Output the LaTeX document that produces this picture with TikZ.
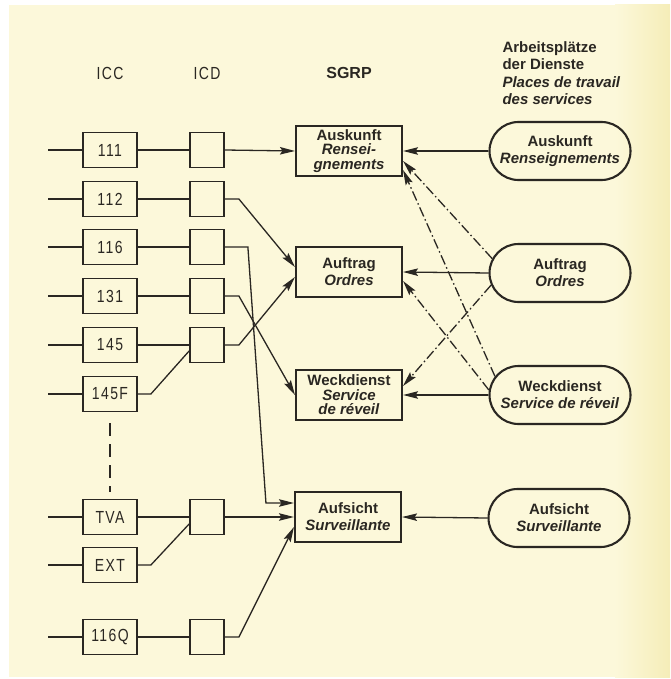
\documentclass[tikz,border=0pt]{standalone}
\usepackage{fontspec}
\usepackage{xcolor}
\newfontfamily\hfont{Liberation Sans}
\newfontfamily\dinfont[FakeStretch=0.8,LetterSpace=8]{Liberation Sans}
\usetikzlibrary{shapes.misc, arrows.meta, calc}

\definecolor{paper}{HTML}{FCF8DA}
\definecolor{paperedge}{HTML}{F5EDB8}
\definecolor{ink}{HTML}{2A2722}

\newcommand\svcfont{\hfont\bfseries\fontsize{15}{17}\selectfont}
\newcommand\svctight{\hfont\bfseries\fontsize{15}{14.5}\selectfont}
\newcommand\codefont{\dinfont\fontsize{17.5}{17.5}\selectfont}

\tikzset{
    icc/.style = {draw, line width=1.8pt, minimum width=54pt, minimum height=35pt, inner sep=0pt, font=\codefont},
    icd/.style = {draw, line width=1.8pt, minimum width=34pt, minimum height=35pt, inner sep=0pt},
    sgrp/.style = {draw, line width=2.1pt, minimum width=106pt, minimum height=50pt, inner sep=0pt, align=center, font=\svcfont},
    place/.style = {draw, rounded rectangle, line width=2.1pt, minimum width=141pt, minimum height=58pt, inner sep=0pt, align=center, font=\svcfont},
    link/.style = {line width=1.3pt},
    arr/.style = {link, -{Stealth[length=15pt, width=7.5pt, inset=2.5pt]}},
    altarr/.style = {arr, dash pattern=on 10pt off 3pt on 1.5pt off 3pt},
}

\begin{document}
\begin{tikzpicture}[x=1pt, y=-1pt, color=ink]
                \useasboundingbox (0,0) rectangle (670,679);
                \fill [white] (0,0) rectangle (670,679);
                \fill [paper] (9,5) rectangle (670,677);
                \fill [left color=paper, right color=paperedge] (615,5) rectangle (670,677);

                \node [font=\codefont] (hICC) at (110,73) {ICC};
                \node [font=\codefont] (hICD) at (207,73) {ICD};
                \node [font=\hfont\bfseries\fontsize{16}{16}\selectfont] (hSGRP) at (349,73) {SGRP};
                \node [anchor=west, align=left, font=\hfont\bfseries\fontsize{15}{17.5}\selectfont] (hPlaces) at (499,73)
                    {Arbeitsplätze\\der Dienste\\\textit{Places de travail}\\\textit{des services}};

                \node [icc] (icc111) at (110,150) {111};
                \node [icc] (icc112) at (110,199) {112};
                \node [icc] (icc116) at (110,247) {116};
                \node [icc] (icc131) at (110,296) {131};
                \node [icc] (icc145) at (110,345) {145};
                \node [icc] (icc145F) at (110,394) {145F};
                \node [icc] (iccTVA) at (110,517) {TVA};
                \node [icc] (iccEXT) at (110,565) {EXT};
                \node [icc] (icc116Q) at (110,637) {116Q};

                \node [icd] (icd111) at (207,150) {};
                \node [icd] (icd112) at (207,199) {};
                \node [icd] (icd116) at (207,247) {};
                \node [icd] (icd131) at (207,296) {};
                \node [icd] (icd145) at (207,345) {};
                \node [icd] (icdTVA) at (207,517) {};
                \node [icd] (icd116Q) at (207,637) {};

                \node [sgrp, font=\svctight] (sgAuskunft) at (349,151) {Auskunft\\\textit{Rensei-}\\\textit{gnements}};
                \node [sgrp] (sgAuftrag) at (349,272) {Auftrag\\\textit{Ordres}};
                \node [sgrp, font=\svctight] (sgWeck) at (349,395) {Weckdienst\\\textit{Service}\\\textit{de réveil}};
                \node [sgrp] (sgAufsicht) at (348,517) {Aufsicht\\\textit{Surveillante}};

                \node [place] (apAuskunft) at (560,151) {Auskunft\\\textit{Renseignements}};
                \node [place] (apAuftrag) at (560,273) {Auftrag\\\textit{Ordres}};
                \node [place] (apWeck) at (560,395) {Weckdienst\\\textit{Service de réveil}};
                \node [place] (apAufsicht) at (559,518) {Aufsicht\\\textit{Surveillante}};

                \foreach \n/\y in {111/150, 112/199, 116/247, 131/296, 145/345, 145F/394, TVA/517, EXT/565, 116Q/637} {
                    \coordinate (in\n) at (48,\y);
                    \draw [link] (in\n) -- (icc\n.west);
                }
                \foreach \n in {111, 112, 116, 131, 145, TVA, 116Q}
                    \draw [link] (icc\n.east) -- (icd\n.west);

                \draw [link] (icc145F.east) -- ++(13,0) -- ([yshift=-6pt]icd145.west);
                \draw [link] (iccEXT.east) -- ++(13,0) -- ([yshift=-7pt]icdTVA.west);
                \draw [link, dash pattern=on 13pt off 8pt] ([yshift=-11pt]icc145F.south) -- ([yshift=7pt]iccTVA.north);

                \draw [arr] (icd111.east) -- (sgAuskunft.west);
                \draw [arr] (icd112.east) -- ++(14,0) -- ([yshift=5pt]sgAuftrag.west);
                \draw [arr] (icd145.east) -- ++(14,0) -- ([yshift=-5pt]sgAuftrag.west);
                \draw [arr] (icd131.east) -- ++(14,0) -- (sgWeck.west);
                \draw [arr] (icd116.east) -- ++(23,0) -- ([xshift=-28pt, yshift=14pt]sgAufsicht.west) -- ([yshift=14pt]sgAufsicht.west);
                \draw [arr] (icdTVA.east) -- (sgAufsicht.west);
                \draw [arr] (icd116Q.east) -- ++(14,0) -- ([yshift=-10pt]sgAufsicht.west);

                \draw [arr] (apAuskunft.west) -- (sgAuskunft.east);
                \draw [arr] (apAuftrag.west) -- (sgAuftrag.east);
                \draw [arr] (apWeck.west) -- (sgWeck.east);
                \draw [arr] (apAufsicht.west) -- (sgAufsicht.east);

                \draw [altarr] (apAuftrag.168) -- ([yshift=-10pt]sgAuskunft.east);
                \draw [altarr] (apWeck.164) -- ([yshift=-19pt]sgAuskunft.east);
                \draw [altarr] (apWeck.176) -- ([yshift=-9pt]sgAuftrag.east);
                \draw [altarr] (apAuftrag.190) -- ([yshift=9pt]sgWeck.east);
            \end{tikzpicture}
\end{document}
